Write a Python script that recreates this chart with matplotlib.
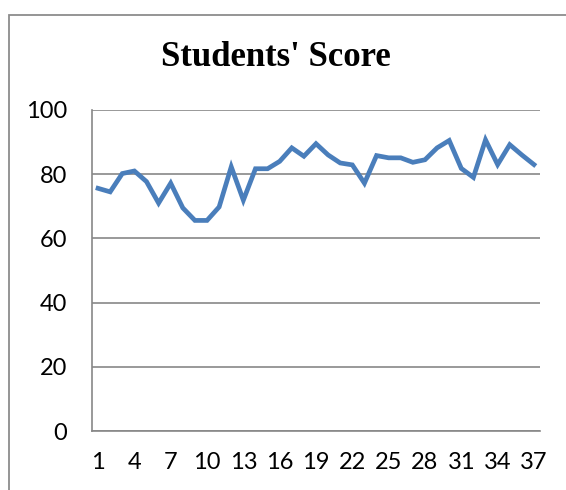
import matplotlib
matplotlib.use("Agg")
from matplotlib import pyplot as plt
from matplotlib.patches import Rectangle

plt.rcParams["font.family"] = ["Lato", "DejaVu Sans"]

students = list(range(1, 38))
scores = [75.6, 74.5, 80.2, 81.0, 77.7, 71.0, 77.2, 69.5, 65.6, 65.6,
          69.8, 82.3, 71.9, 81.7, 81.7, 84.0, 88.2, 85.6, 89.5, 86.0,
          83.5, 82.9, 77.2, 85.8, 85.1, 85.1, 83.7, 84.5, 88.2, 90.5,
          81.8, 79.0, 90.7, 83.0, 89.2, 86.0, 83.0]
x_ticks = list(range(1, 38, 3))
y_ticks = [0, 20, 40, 60, 80, 100]

fig = plt.figure(figsize=(5.66, 4.9), dpi=100)

# chart frame (cut off at the right and bottom in the original)
fig.patches.append(Rectangle((9 / 566, -0.1), 1.0, 1.1 - 15 / 490,
                             transform=fig.transFigure, fill=False,
                             edgecolor="#8c8c8c", linewidth=1.3))

ax = fig.add_axes([92 / 566, 59 / 490, 448 / 566, 321 / 490])
ax.plot(students, scores, color="#4a7ebb", linewidth=3.4,
        solid_joinstyle="miter")

ax.set_xlim(0.5, 37.5)
ax.set_ylim(0, 100)
ax.set_xticks(x_ticks)
ax.set_yticks(y_ticks)
ax.tick_params(length=0, labelsize=17, labelcolor="black")
ax.tick_params(axis="x", pad=15)
ax.tick_params(axis="y", pad=18)

ax.grid(axis="y", color="#878787", linewidth=1.2)
ax.set_axisbelow(True)
for side in ["top", "right"]:
    ax.spines[side].set_visible(False)
for side in ["left", "bottom"]:
    ax.spines[side].set_color("#878787")
    ax.spines[side].set_linewidth(1.2)

fig.text(276 / 566, 1 - 58 / 490, "Students' Score", ha="center", va="center",
         family="Liberation Serif", fontweight="bold", fontsize=25)

fig.savefig("out.png", dpi=100)
